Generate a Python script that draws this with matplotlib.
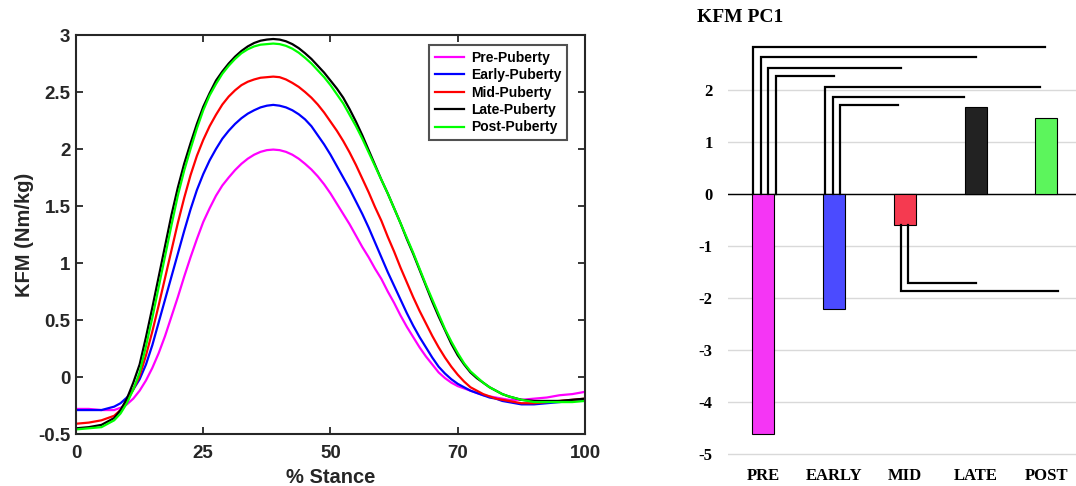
import numpy as np
import matplotlib
matplotlib.use("Agg")
import matplotlib.pyplot as plt

plt.rcParams["axes.unicode_minus"] = False

# ---- left panel: knee flexion moment curves ----
stance = [0, 2.5, 5] + list(np.arange(7.5, 85.01, 1.25)) + [87.5, 90, 92.5, 95, 97.5, 100]

pre = [-0.28, -0.28, -0.29,
       -0.29, -0.27, -0.24, -0.19, -0.12, -0.03, 0.08, 0.21, 0.36, 0.53, 0.70, 0.88,
       1.05, 1.21, 1.36, 1.48, 1.59, 1.68, 1.75,
       1.815, 1.87, 1.915, 1.95, 1.975, 1.99, 1.995, 1.99, 1.975, 1.95, 1.915,
       1.87, 1.82, 1.76, 1.69, 1.61, 1.52, 1.43, 1.34, 1.24, 1.14, 1.05, 0.95, 0.86,
       0.75, 0.65, 0.54, 0.44, 0.35, 0.26, 0.18, 0.11, 0.04, -0.01, -0.05, -0.08,
       -0.10, -0.12, -0.14, -0.16, -0.17, -0.18, -0.19, -0.20,
       -0.20, -0.19, -0.18, -0.16, -0.15, -0.13]
early = [-0.29, -0.29, -0.29,
         -0.26, -0.23, -0.18, -0.11, -0.02, 0.11, 0.28, 0.48, 0.68, 0.88, 1.08, 1.28,
         1.47, 1.64, 1.78, 1.90, 2.00, 2.09, 2.16,
         2.22, 2.27, 2.31, 2.34, 2.365, 2.38, 2.387, 2.38, 2.365, 2.34, 2.305,
         2.26, 2.20, 2.12, 2.04, 1.95, 1.85, 1.75, 1.65, 1.54, 1.43, 1.31, 1.18, 1.05,
         0.92, 0.80, 0.68, 0.56, 0.45, 0.35, 0.26, 0.17, 0.09, 0.03, -0.02, -0.06,
         -0.09, -0.12, -0.14, -0.16, -0.18, -0.19, -0.21, -0.22,
         -0.24, -0.24, -0.23, -0.22, -0.21, -0.20]
mid = [-0.41, -0.40, -0.38,
       -0.34, -0.29, -0.21, -0.11, 0.01, 0.19, 0.40, 0.63, 0.87, 1.11, 1.35, 1.57,
       1.77, 1.94, 2.08, 2.20, 2.30, 2.39, 2.46,
       2.515, 2.56, 2.59, 2.61, 2.625, 2.63, 2.635, 2.63, 2.61, 2.58, 2.545,
       2.50, 2.45, 2.39, 2.32, 2.24, 2.16, 2.07, 1.97, 1.86, 1.74, 1.62, 1.49, 1.37,
       1.23, 1.10, 0.96, 0.83, 0.70, 0.58, 0.47, 0.36, 0.26, 0.17, 0.09, 0.02,
       -0.04, -0.09, -0.12, -0.15, -0.17, -0.19, -0.20, -0.21,
       -0.23, -0.23, -0.22, -0.21, -0.20, -0.19]
late = [-0.45, -0.44, -0.42,
        -0.36, -0.29, -0.19, -0.05, 0.11, 0.35, 0.61, 0.88, 1.15, 1.42, 1.66, 1.87,
        2.05, 2.22, 2.37, 2.49, 2.60, 2.68, 2.75,
        2.81, 2.86, 2.90, 2.93, 2.95, 2.96, 2.965, 2.96, 2.945, 2.92, 2.885,
        2.84, 2.79, 2.73, 2.67, 2.60, 2.53, 2.45, 2.35, 2.24, 2.12, 1.99, 1.86, 1.73,
        1.61, 1.48, 1.35, 1.21, 1.08, 0.94, 0.80, 0.66, 0.53, 0.41, 0.29, 0.19,
        0.11, 0.04, -0.01, -0.05, -0.09, -0.12, -0.15, -0.17,
        -0.20, -0.21, -0.21, -0.21, -0.20, -0.19]
post = [-0.46, -0.45, -0.44,
        -0.38, -0.32, -0.23, -0.11, 0.04, 0.27, 0.52, 0.79, 1.06, 1.33, 1.59, 1.81,
        2.00, 2.18, 2.34, 2.47, 2.57, 2.66, 2.73,
        2.79, 2.84, 2.875, 2.90, 2.915, 2.92, 2.925, 2.92, 2.905, 2.88, 2.845,
        2.80, 2.75, 2.69, 2.63, 2.56, 2.48, 2.40, 2.30, 2.20, 2.09, 1.97, 1.85, 1.73,
        1.61, 1.48, 1.35, 1.22, 1.09, 0.95, 0.81, 0.68, 0.55, 0.42, 0.31, 0.21,
        0.12, 0.05, 0.00, -0.05, -0.09, -0.12, -0.15, -0.17,
        -0.20, -0.22, -0.22, -0.22, -0.22, -0.21]

curve_names = ["Pre-Puberty", "Early-Puberty", "Mid-Puberty", "Late-Puberty", "Post-Puberty"]
curve_colors = ["#ff00ff", "#0000ff", "#ff0000", "#000000", "#00ff00"]

x_ticks = [0, 25, 50, 75, 100]
x_ticklabels = ["0", "25", "50", "70", "100"]
y_ticks = [-0.5, 0, 0.5, 1, 1.5, 2, 2.5, 3]
y_ticklabels = ["-0.5", "0", "0.5", "1", "1.5", "2", "2.5", "3"]

# ---- right panel: PC1 scores ----
groups = ["PRE", "EARLY", "MID", "LATE", "POST"]
pc1 = [-4.62, -2.22, -0.60, 1.67, 1.47]
bar_colors = ["#f535f5", "#4b4bff", "#f53a50", "#222222", "#5cf55c"]

# significance brackets: (x start, y start, height, x end)
brackets = [
    (-0.153, 0, 2.83, 3.98),
    (-0.040, 0, 2.63, 3.01),
    (0.064, 0, 2.43, 1.94),
    (0.177, 0, 2.27, 1.00),
    (0.873, 0, 2.05, 3.91),
    (0.980, 0, 1.87, 2.84),
    (1.080, 0, 1.72, 1.91),
    (1.940, -0.60, -1.87, 4.16),
    (2.050, -0.60, -1.71, 3.00),
]

fig = plt.figure(figsize=(10.76, 4.86), dpi=100)

# left axes
ax = fig.add_axes([76 / 1076, 1 - 434 / 486, 509 / 1076, 399 / 486])
sans = "Liberation Sans"
for ys, nm, col in zip([pre, early, mid, late, post], curve_names, curve_colors):
    ax.plot(stance, ys, color=col, lw=1.6, label=nm)
ax.set_xlim(0, 100)
ax.set_ylim(-0.5, 3)
ax.set_xticks(x_ticks)
ax.set_xticklabels(x_ticklabels)
ax.set_yticks(y_ticks)
ax.set_yticklabels(y_ticklabels)
ax.tick_params(direction="in", length=5, width=1.3, top=True, right=True,
               colors="#262626", labelsize=13.5)
ax.tick_params(axis="x", pad=8)
ax.tick_params(axis="y", pad=4)
for lab in ax.get_xticklabels() + ax.get_yticklabels():
    lab.set_fontfamily(sans)
    lab.set_fontweight("bold")
for sp in ax.spines.values():
    sp.set_linewidth(1.5)
    sp.set_color("#262626")
ax.set_xlabel("% Stance", fontsize=14.5, fontweight="bold", family=sans,
              color="#262626", labelpad=4)
ax.set_ylabel("KFM (Nm/kg)", fontsize=14.5, fontweight="bold", family=sans,
              color="#262626", labelpad=3)
leg = ax.legend(loc="upper right", bbox_to_anchor=((567 - 76) / 509, (434 - 45) / 399),
                fancybox=False, prop={"family": sans, "weight": "bold", "size": 10},
                handlelength=2.1, handletextpad=0.5, labelspacing=0.25,
                borderpad=0.4, borderaxespad=0)
leg.get_frame().set_edgecolor("#262626")
leg.get_frame().set_linewidth(1.5)

# right axes
serif = "Liberation Serif"
ax2 = fig.add_axes([728 / 1076, 1 - 462 / 486, 348 / 1076, 432 / 486])
xpos = np.arange(len(groups))
ax2.set_axisbelow(True)
ax2.yaxis.grid(True, color="#d9d9d9", lw=1)
ax2.bar(xpos, pc1, width=0.31, color=bar_colors, edgecolor="black", lw=0.8, zorder=3)
ax2.axhline(0, color="black", lw=1.0, zorder=2)
for x0, y0, h, x1 in brackets:
    ax2.plot([x0, x0, x1], [y0, h, h], color="black", lw=1.6,
             solid_joinstyle="miter", zorder=4)
ax2.set_xlim(-0.5, 4.42)
ax2.set_ylim(-5.154, 3.154)
ax2.set_yticks([-5, -4, -3, -2, -1, 0, 1, 2])
ax2.set_xticks(xpos)
ax2.set_xticklabels(groups)
ax2.tick_params(length=0, labelsize=12)
ax2.tick_params(axis="y", pad=11)
ax2.tick_params(axis="x", pad=4)
for lab in ax2.get_xticklabels() + ax2.get_yticklabels():
    lab.set_fontfamily(serif)
    lab.set_fontweight("bold")
for sp in ax2.spines.values():
    sp.set_visible(False)
fig.text(697 / 1076, 1 - 18 / 486, "KFM PC1", family=serif, fontweight="bold",
         fontsize=14, ha="left", va="center")

fig.savefig("out.png", dpi=100)
